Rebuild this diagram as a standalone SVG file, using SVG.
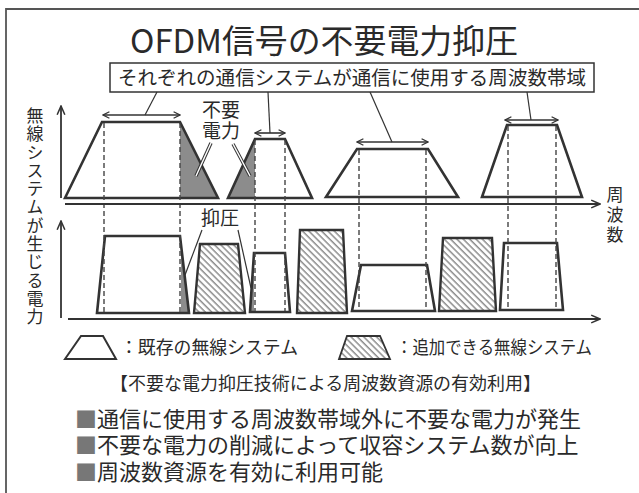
<svg xmlns="http://www.w3.org/2000/svg" width="639" height="493" viewBox="0 0 639 493">
<style>
text{font-family:"Noto Sans CJK JP","Noto Sans",sans-serif;fill:#2a2a2a}
.vt{writing-mode:vertical-rl;text-orientation:upright}
.shape{fill:#fff;stroke:#333;stroke-width:2.6;stroke-linejoin:miter}
.hatch{fill:url(#hp);stroke:#333;stroke-width:2.4}
.gray{fill:#8c8c8c;stroke:none}
.dash{stroke:#444;stroke-width:1.4;stroke-dasharray:5 3;fill:none}
.lead{stroke:#333;stroke-width:1.2;fill:none}
.axis{stroke:#333;stroke-width:1.8;fill:none}
.dbl{stroke:#333;stroke-width:1.6;fill:none;marker-start:url(#ah);marker-end:url(#ah)}
.sq{fill:#777}
</style>
<defs>
<pattern id="hp" width="4.5" height="4.5" patternUnits="userSpaceOnUse" patternTransform="rotate(-45)">
<rect width="4.5" height="4.5" fill="#fff"/>
<line x1="1" y1="0" x2="1" y2="4.5" stroke="#555" stroke-width="1"/>
</pattern>
<marker id="ah" viewBox="0 0 10 10" refX="9" refY="5" markerWidth="8" markerHeight="8" markerUnits="userSpaceOnUse" orient="auto-start-reverse">
<path d="M1,1 L9,5 L1,9" fill="none" stroke="#333" stroke-width="1.6"/>
</marker>
<marker id="ax" viewBox="0 0 10 10" refX="9" refY="5" markerWidth="11" markerHeight="11" markerUnits="userSpaceOnUse" orient="auto">
<path d="M1,1.5 L9,5 L1,8.5" fill="none" stroke="#333" stroke-width="1.4"/>
</marker>
</defs>
<rect width="639" height="493" fill="#fff"/>
<g id="frame" fill="none" stroke="#555" stroke-width="1.8">
<path d="M6,493 V9 H639"/>
</g>
<g id="title"><text x="130" y="53" font-size="33" fill="#333" textLength="388" lengthAdjust="spacingAndGlyphs">OFDM信号の不要電力抑圧</text></g>
<g id="band-label">
<rect x="110" y="63" width="484" height="29" fill="#fff" stroke="#333" stroke-width="1.5"/>
<text x="118" y="85" font-size="19.5" textLength="468" lengthAdjust="spacingAndGlyphs">それぞれの通信システムが通信に使用する周波数帯域</text>
</g>
<g id="y-axis-label">
<text class="vt" x="35" y="107" font-size="17" letter-spacing="1.3">無線システムが生じる電力</text>
</g>
<g id="x-axis-label">
<text class="vt" x="615" y="186" font-size="17" letter-spacing="3">周波数</text>
</g>
<g id="top-sys1">
<polygon class="shape" points="65,198 102,122 180,122 218,198" style="stroke:none"/>
<polygon class="gray" points="180,122 218,198 180,198"/>
<polygon class="shape" points="65,198 102,122 180,122 218,198" style="fill:none"/>
</g>
<g id="top-sys2">
<polygon class="shape" points="228,198 255,139 285,139 312,198" style="stroke:none"/>
<polygon class="gray" points="255,139 255,198 228,198"/>
<polygon class="shape" points="228,198 255,139 285,139 312,198" style="fill:none"/>
</g>
<g id="top-sys3"><polygon class="shape" points="326,197 357,149 428,149 458,197"/></g>
<g id="top-sys4"><polygon class="shape" points="482,197 507,125 557,125 582,197"/></g>
<g id="top-unwanted-label">
<text font-size="19" text-anchor="middle"><tspan x="221" y="117">不要</tspan><tspan x="221" y="138">電力</tspan></text>
</g>
<g id="bot-sys1">
<polygon class="shape" points="97,313 105,236 180,236 189,313" style="stroke:none"/>
<polygon class="gray" points="181,250 189,313 181,313"/>
<polygon class="shape" points="97,313 105,236 180,236 189,313" style="fill:none"/>
</g>
<g id="bot-add1"><polygon class="hatch" points="194,313 200,244 238,244 245,313"/></g>
<g id="bot-sys2">
<polygon class="shape" points="250,312 254,253 285,253 290,312" style="stroke:none"/>
<polygon class="gray" points="252,275 254,275 254,312 250,312"/>
<polygon class="shape" points="250,312 254,253 285,253 290,312" style="fill:none"/>
</g>
<g id="bot-add2"><polygon class="hatch" points="297,313 300,230 343,230 347,313"/></g>
<g id="bot-sys3"><polygon class="shape" points="352,311 361,265 427,265 435,311"/></g>
<g id="bot-add3"><polygon class="hatch" points="439,311 443,238 492,238 496,311"/></g>
<g id="bot-sys4"><polygon class="shape" points="500,310 504,243 557,243 563,310"/></g>
<g id="bot-suppress-label"><text x="220" y="225" font-size="19" text-anchor="middle">抑圧</text></g>
<g id="connectors">
<line class="dash" x1="104" y1="123" x2="104" y2="312"/>
<line class="dash" x1="180" y1="123" x2="180" y2="312"/>
<line class="dash" x1="255" y1="140" x2="255" y2="311"/>
<line class="dash" x1="285" y1="140" x2="285" y2="311"/>
<line class="dash" x1="359" y1="150" x2="359" y2="310"/>
<line class="dash" x1="426" y1="150" x2="426" y2="310"/>
<line class="dash" x1="508" y1="126" x2="508" y2="309"/>
<line class="dash" x1="556" y1="126" x2="556" y2="309"/>
<line class="axis" x1="61" y1="198" x2="61" y2="106" marker-end="url(#ax)"/>
<line class="axis" x1="61" y1="318" x2="61" y2="221" marker-end="url(#ax)"/>
<line class="axis" x1="65" y1="204" x2="600" y2="204" marker-end="url(#ax)"/>
<line class="axis" x1="68" y1="319" x2="600" y2="319" marker-end="url(#ax)"/>
<line class="dbl" x1="103" y1="115" x2="180" y2="115"/>
<line class="dbl" x1="255" y1="133" x2="285" y2="133"/>
<line class="dbl" x1="357" y1="142" x2="428" y2="142"/>
<line class="dbl" x1="505" y1="120" x2="558" y2="120"/>
<line class="lead" x1="157" y1="92" x2="145" y2="115"/>
<line class="lead" x1="268" y1="92" x2="270" y2="133"/>
<line class="lead" x1="370" y1="92" x2="392" y2="142"/>
<line class="lead" x1="527" y1="92" x2="531" y2="120"/>
<line x1="211" y1="143" x2="196" y2="176" stroke="#333" stroke-width="3.4"/>
<line x1="211" y1="143" x2="196" y2="176" stroke="#fff" stroke-width="1.4"/>
<line x1="233" y1="144" x2="250" y2="176" stroke="#333" stroke-width="3.4"/>
<line x1="233" y1="144" x2="250" y2="176" stroke="#fff" stroke-width="1.4"/>
<line class="lead" x1="202" y1="230" x2="185" y2="275"/>
<line class="lead" x1="238" y1="230" x2="251" y2="288"/>
</g>
<g id="legend">
<polygon class="shape" points="65,359 81,336 103,336 116,359" style="stroke-width:2"/>
<text x="120" y="354" font-size="18" textLength="178" lengthAdjust="spacingAndGlyphs">：既存の無線システム</text>
<polygon class="hatch" points="339,359 347,336 380,336 390,359" style="stroke-width:1.8"/>
<text x="396" y="354" font-size="18" textLength="196" lengthAdjust="spacingAndGlyphs">：追加できる無線システム</text>
</g>
<g id="caption"><text x="110" y="390" font-size="18" textLength="431" lengthAdjust="spacingAndGlyphs">【不要な電力抑圧技術による周波数資源の有効利用】</text></g>
<g id="notes">
<text font-size="22"><tspan class="sq" x="75" y="427">■</tspan><tspan>通信に使用する周波数帯域外に不要な電力が発生</tspan><tspan class="sq" x="75" y="453">■</tspan><tspan>不要な電力の削減によって収容システム数が向上</tspan><tspan class="sq" x="75" y="480">■</tspan><tspan>周波数資源を有効に利用可能</tspan></text>
</g>
</svg>
